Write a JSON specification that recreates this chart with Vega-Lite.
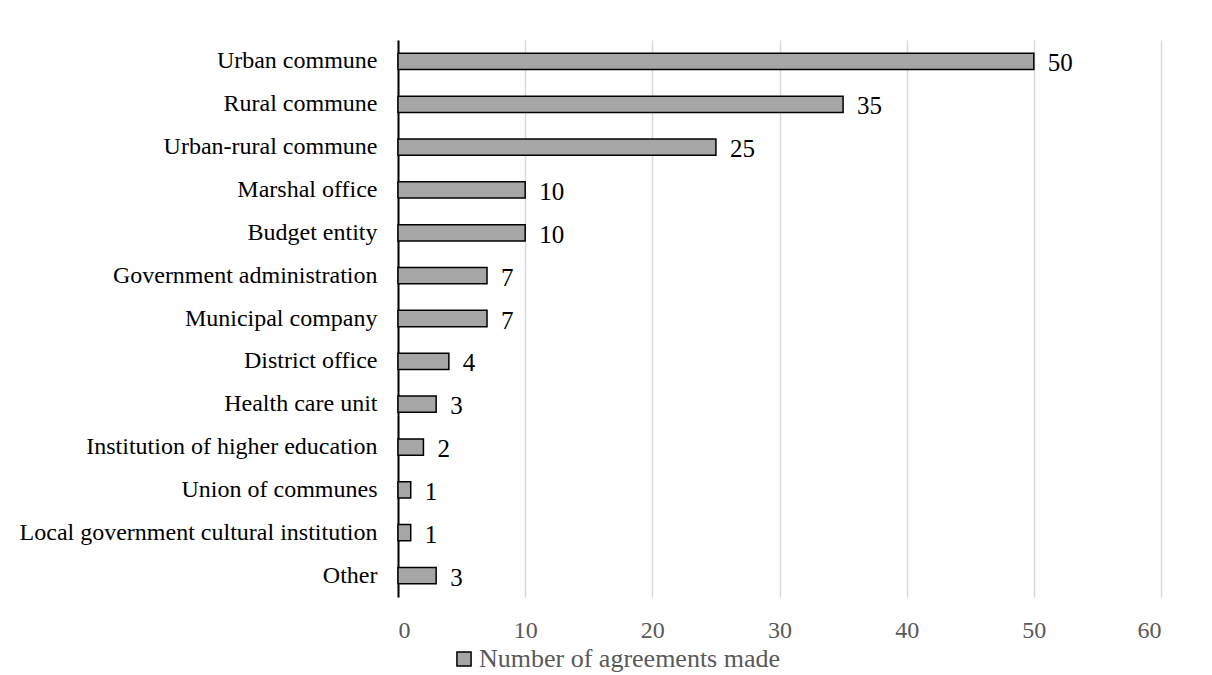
{
  "$schema": "https://vega.github.io/schema/vega-lite/v6.json",
  "autosize": {"type": "none"},
  "width": 763,
  "height": 557,
  "padding": {"left": 398, "top": 40, "right": 51, "bottom": 78},
  "background": "white",
  "config": {
    "font": "Liberation Serif",
    "view": {"stroke": null}
  },
  "data": {
    "values": [
      {"category": "Urban commune", "value": 50, "series": "Number of agreements made"},
      {"category": "Rural commune", "value": 35, "series": "Number of agreements made"},
      {"category": "Urban-rural commune", "value": 25, "series": "Number of agreements made"},
      {"category": "Marshal office", "value": 10, "series": "Number of agreements made"},
      {"category": "Budget entity", "value": 10, "series": "Number of agreements made"},
      {"category": "Government administration", "value": 7, "series": "Number of agreements made"},
      {"category": "Municipal company", "value": 7, "series": "Number of agreements made"},
      {"category": "District office", "value": 4, "series": "Number of agreements made"},
      {"category": "Health care unit", "value": 3, "series": "Number of agreements made"},
      {"category": "Institution of higher education", "value": 2, "series": "Number of agreements made"},
      {"category": "Union of communes", "value": 1, "series": "Number of agreements made"},
      {"category": "Local government cultural institution", "value": 1, "series": "Number of agreements made"},
      {"category": "Other", "value": 3, "series": "Number of agreements made"}
    ]
  },
  "encoding": {
    "y": {
      "field": "category",
      "type": "nominal",
      "sort": null,
      "title": null,
      "scale": {"paddingInner": 0.62, "paddingOuter": 0.31},
      "axis": {
        "domainColor": "#000000",
        "domainWidth": 2,
        "ticks": false,
        "labelFontSize": 24,
        "labelColor": "#000000",
        "labelPadding": 21,
        "labelLimit": 420
      }
    },
    "x": {
      "field": "value",
      "type": "quantitative",
      "title": null,
      "scale": {"domain": [0, 60], "nice": false},
      "axis": {
        "values": [0, 10, 20, 30, 40, 50, 60],
        "domain": false,
        "ticks": false,
        "grid": true,
        "gridColor": "#d9d9d9",
        "gridWidth": 1.5,
        "labelFontSize": 24,
        "labelColor": "#595959",
        "labelPadding": 21
      }
    }
  },
  "layer": [
    {
      "mark": {"type": "bar", "stroke": "#000000", "strokeWidth": 1.5},
      "encoding": {
        "color": {
          "field": "series",
          "type": "nominal",
          "title": null,
          "scale": {"range": ["#a6a6a6"]},
          "legend": {
            "orient": "none",
            "legendX": 53,
            "legendY": 606,
            "direction": "horizontal",
            "symbolType": "square",
            "symbolSize": 200,
            "symbolStrokeColor": "#000000",
            "symbolStrokeWidth": 1.5,
            "labelFontSize": 26,
            "labelColor": "#595959",
            "labelOffset": 2,
            "labelLimit": 500
          }
        }
      }
    },
    {
      "mark": {"type": "text", "align": "left", "baseline": "middle", "dx": 14, "dy": 2, "fontSize": 25, "color": "#000000"},
      "encoding": {
        "text": {"field": "value", "type": "quantitative"}
      }
    }
  ]
}
